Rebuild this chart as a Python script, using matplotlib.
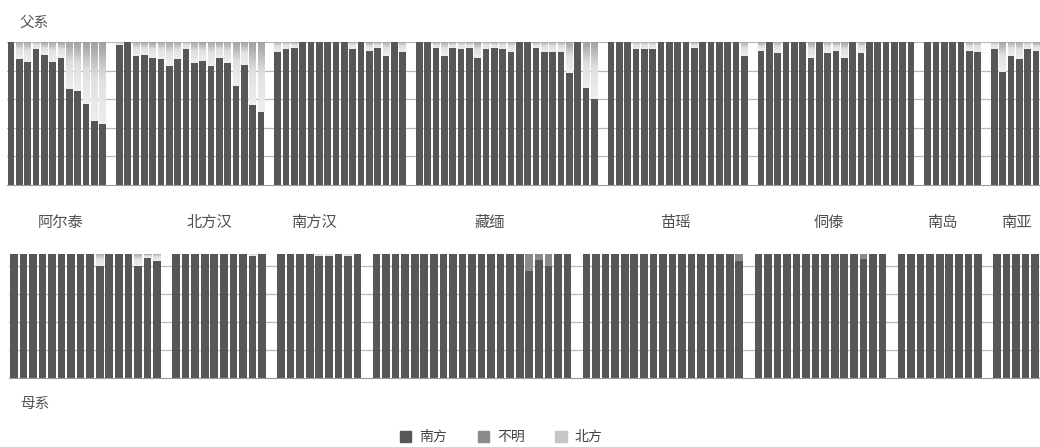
import numpy as np
import matplotlib
import matplotlib.pyplot as plt
from matplotlib.colors import LinearSegmentedColormap
from matplotlib.patches import Patch

plt.rcParams['font.family'] = ['Noto Sans CJK SC', 'DejaVu Sans']

groups = ['阿尔泰', '北方汉', '南方汉', '藏缅', '苗瑶', '侗傣', '南岛', '南亚']

# paternal lineages, % of southern origin per population
paternal_south = [
    [100, 88, 86, 95, 91, 86, 89, 67, 66, 57, 45, 43],
    [98, 100, 90, 91, 89, 88, 83, 88, 95, 85, 87, 83, 89, 85, 69, 84, 56, 51],
    [93, 95, 96, 100, 100, 100, 100, 100, 100, 95, 100, 94, 96, 90, 100, 93],
    [100, 100, 96, 90, 96, 95, 96, 89, 95, 96, 95, 93, 100, 100, 96, 93, 93, 93, 78, 100, 68, 60],
    [100, 100, 100, 95, 95, 95, 100, 100, 100, 100, 96, 100, 100, 100, 100, 100, 90],
    [94, 100, 92, 100, 100, 100, 89, 100, 92, 94, 89, 100, 92, 100, 100, 100, 100, 100, 100],
    [100, 100, 100, 100, 100, 94, 93],
    [95, 79, 90, 88, 95, 94],
]
paternal_unknown = [[0] * len(g) for g in paternal_south]

# maternal lineages
maternal_south = [
    [100, 100, 100, 100, 100, 100, 100, 100, 100, 90, 100, 100, 100, 90, 97, 94],
    [100, 100, 100, 100, 100, 100, 100, 100, 98, 100],
    [100, 100, 100, 100, 98, 98, 100, 98, 100],
    [100, 100, 100, 100, 100, 100, 100, 100, 100, 100, 100, 100, 100, 100, 100, 100, 86, 95, 90, 100, 100],
    [100, 100, 100, 100, 100, 100, 100, 100, 100, 100, 100, 100, 100, 100, 100, 100, 94],
    [100, 100, 100, 100, 100, 100, 100, 100, 100, 100, 100, 96, 100, 100],
    [100, 100, 100, 100, 100, 100, 100, 100, 100],
    [100, 100, 100, 100, 100],
]
maternal_unknown = [
    [0] * 16,
    [0] * 10,
    [0] * 9,
    [0, 0, 0, 0, 0, 0, 0, 0, 0, 0, 0, 0, 0, 0, 0, 0, 14, 5, 10, 0, 0],
    [0] * 16 + [6],
    [0] * 11 + [4, 0, 0],
    [0] * 9,
    [0] * 5,
]

C_SOUTH = '#575757'
C_UNKNOWN = '#8a8a8a'
north_cmap = LinearSegmentedColormap.from_list(
    'north', [(0, '#eeeeee'), (0.55, '#e0e0e0'), (1, '#a0a0a0')])


def slot_positions(data):
    xs, pos = [], 0
    for i, g in enumerate(data):
        if i:
            pos += 1
        xs.append(np.arange(pos, pos + len(g)))
        pos += len(g)
    return xs, pos


def draw_panel(ax, south, unknown, width, grid):
    xs, n = slot_positions(south)
    ax.set_axisbelow(True)
    for x, s, u in zip(xs, south, unknown):
        s = np.array(s) / 100
        u = np.array(u) / 100
        ax.bar(x, s, width=width, color=C_SOUTH, zorder=2)
        ax.bar(x, u, bottom=s, width=width, color=C_UNKNOWN, zorder=2)
        for xi, lo in zip(x, s + u):
            if lo < 0.999:
                grad = np.linspace(0, 1, 64).reshape(-1, 1)
                ax.imshow(grad, extent=(xi - width / 2, xi + width / 2, lo, 1),
                          origin='lower', aspect='auto', cmap=north_cmap, zorder=2)
    ax.set_xlim(-0.5, n - 0.5)
    ax.set_ylim(0, 1)
    ax.set_yticks(grid)
    ax.set_xticks([])
    ax.yaxis.grid(True, color='#b8b8b8', lw=0.9)
    ax.tick_params(left=False, labelleft=False)
    for side in ['top', 'left', 'right']:
        ax.spines[side].set_visible(False)
    ax.spines['bottom'].set_color('#9a9a9a')


fig = plt.figure(figsize=(10.4, 4.47), dpi=100)

ax_top = fig.add_axes([0.0067, 0.586, 0.9933, 0.320])
draw_panel(ax_top, paternal_south, paternal_unknown, 0.8, [0.2, 0.4, 0.6, 0.8, 1.0])

ax_bot = fig.add_axes([0.0087, 0.1544, 0.9913, 0.2774])
draw_panel(ax_bot, maternal_south, maternal_unknown, 0.8, [0.225, 0.45, 0.675, 0.9])

fig.text(0.019, 0.95, '父系', fontsize=10.5, color='#555555', va='center',
         fontweight='light')
fig.text(0.019, 0.097, '母系', fontsize=10.5, color='#555555', va='center',
         fontweight='light')

label_x = [0.058, 0.201, 0.302, 0.471, 0.649, 0.797, 0.906, 0.977]
for name, lx in zip(groups, label_x):
    fig.text(lx, 0.503, name, fontsize=11, color='#505050', ha='center', va='center',
             fontweight='light')

handles = [Patch(color=C_SOUTH, label='南方'),
           Patch(color=C_UNKNOWN, label='不明'),
           Patch(color='#c6c6c6', label='北方')]
fig.legend(handles=handles, loc='center', bbox_to_anchor=(0.482, 0.022), ncol=3,
           frameon=False, fontsize=10, handlelength=0.8, handleheight=0.8,
           handletextpad=0.6, columnspacing=2.2, labelcolor='#444444')

fig.savefig('out.png', dpi=100)
